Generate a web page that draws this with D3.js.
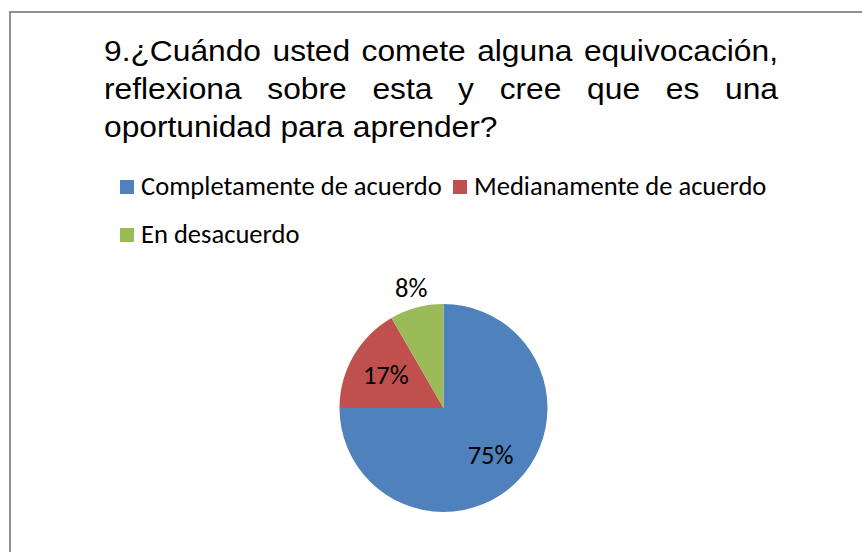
<!DOCTYPE html>
<html>
<head>
<meta charset="utf-8">
<title>Pregunta 9</title>
<script src="https://d3js.org/d3.v7.min.js"></script>
<style>
  body { margin: 0; background: #fff; }
  svg { display: block; }
</style>
</head>
<body>
<script>
// data
var categories = ["Completamente de acuerdo", "Medianamente de acuerdo", "En desacuerdo"];
var counts = [9, 2, 1];
var pctLabels = ["75%", "17%", "8%"];
var colors = ["#4F81BD", "#C0504D", "#9BBB59"];
var titleLines = [
  "9.¿Cuándo usted comete alguna equivocación,",
  "reflexiona sobre esta y cree que es una",
  "oportunidad para aprender?"
];

var w = 862, h = 552;

var svg = d3.select("body")
  .append("svg")
  .attr("width", w)
  .attr("height", h);

// chart border (right and bottom run off the picture)
svg.append("rect")
  .attr("x", 10)
  .attr("y", 12)
  .attr("width", w + 20)
  .attr("height", h + 20)
  .attr("fill", "#fff")
  .attr("stroke", "#868686")
  .attr("stroke-width", 1.8);

// title, justified like the original text box (glyphs are a bit stretched)
var tx0 = 104, tx1 = 778, tBase = 61, tLead = 38, sx = 1.095;
var title = svg.append("g")
  .attr("transform", "translate(" + tx0 + ",0) scale(" + sx + ",1)")
  .attr("font-family", "'Liberation Sans', Arial, sans-serif")
  .attr("font-size", 29)
  .attr("fill", "#000");

var boxW = (tx1 - tx0) / sx;
titleLines.forEach(function(line, i) {
  var y = tBase + i * tLead;
  if (i === titleLines.length - 1) {
    title.append("text").attr("x", 0).attr("y", y).text(line);
    return;
  }
  var words = line.split(" ");
  var nodes = words.map(function(wd) {
    return title.append("text").attr("y", y).text(wd);
  });
  var widths = nodes.map(function(n) { return n.node().getComputedTextLength(); });
  var gap = (boxW - d3.sum(widths)) / (words.length - 1);
  var x = 0;
  nodes.forEach(function(n, k) {
    n.attr("x", x);
    x += widths[k] + gap;
  });
});

// legend
var legFont = "Carlito, Calibri, 'Open Sans', sans-serif";
var legend = svg.append("g").attr("font-family", legFont).attr("fill", "#000");

// fit font size so the first label has the original width
var probe = legend.append("text").attr("font-size", 24).text(categories[0]);
var legSize = 24 * 301 / probe.node().getComputedTextLength();
probe.remove();

var legPos = [
  {x: 120, y: 195},
  {x: 453, y: 195},
  {x: 120, y: 243}
];

var item = legend.selectAll("g.item")
  .data(categories)
  .enter().append("g")
  .attr("class", "item")
  .attr("transform", function(d, i) {
    return "translate(" + legPos[i].x + "," + legPos[i].y + ")";
  });

item.append("rect")
  .attr("x", 0)
  .attr("y", -15)
  .attr("width", 14)
  .attr("height", 14)
  .attr("fill", function(d, i) { return colors[i]; });

item.append("text")
  .attr("x", 21)
  .attr("y", 0)
  .attr("font-size", legSize)
  .text(function(d) { return d; });

// pie
var cx = 443.5, cy = 408, r = 104;

var pie = d3.pie().sort(null).value(function(d) { return d; });
var arcs = pie(counts);

var arc = d3.arc().innerRadius(0).outerRadius(r);
var inLabel = d3.arc().innerRadius(r * 0.64).outerRadius(r * 0.64);
var outLabel = d3.arc().innerRadius(r * 1.2).outerRadius(r * 1.2);

var g = svg.append("g").attr("transform", "translate(" + cx + "," + cy + ")");

g.selectAll("path")
  .data(arcs)
  .enter().append("path")
  .attr("d", arc)
  .attr("fill", function(d, i) { return colors[i]; });

var total = d3.sum(counts);
g.selectAll("text")
  .data(arcs)
  .enter().append("text")
  .attr("transform", function(d) {
    var small = d.value / total < 0.1;
    var c = (small ? outLabel : inLabel).centroid(d);
    return "translate(" + c[0] + "," + c[1] + ")";
  })
  .attr("dy", "0.35em")
  .attr("text-anchor", "middle")
  .attr("font-family", legFont)
  .attr("font-size", legSize)
  .attr("fill", "#000")
  .text(function(d, i) { return pctLabels[i]; });
</script>
</body>
</html>
